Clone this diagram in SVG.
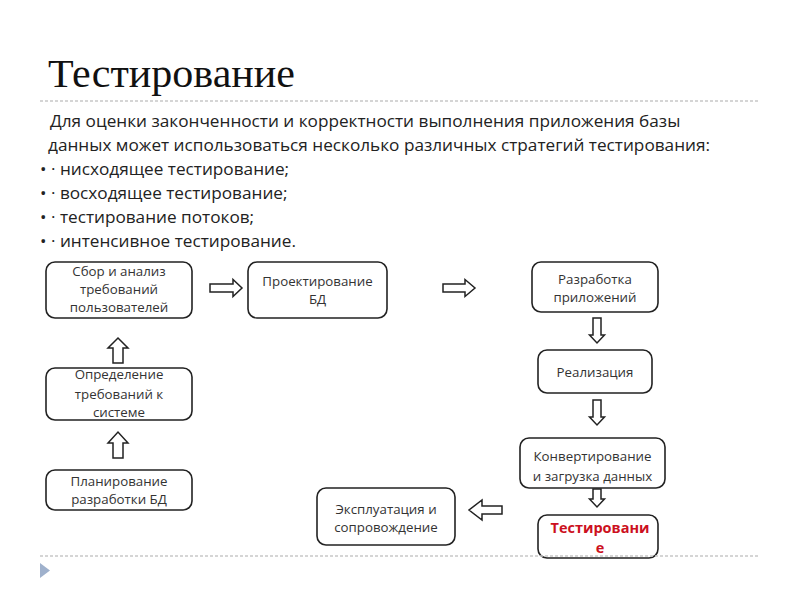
<svg xmlns="http://www.w3.org/2000/svg" width="800" height="600" viewBox="0 0 800 600">
<style>
.title{font-family:"Liberation Serif",serif;font-size:40px;fill:#111}
.body{font-family:"Open Sans","DejaVu Sans",sans-serif;font-size:17.2px;fill:#222}
.box{fill:#fff;stroke:#222;stroke-width:1.6}
.lbl{font-family:"Open Sans","DejaVu Sans",sans-serif;font-size:13.3px;fill:#333;text-anchor:middle}
.red{font-family:"Open Sans","DejaVu Sans",sans-serif;font-size:14.5px;font-weight:bold;fill:#cc1020;text-anchor:middle}
.arr{fill:#fff;stroke:#222;stroke-width:1.5;stroke-linejoin:miter}
.dots{stroke:#c8c8c8;stroke-width:1.5;stroke-dasharray:3 2}
</style>
<rect width="800" height="600" fill="#fff"/>
<text class="title" x="48" y="87" textLength="247" lengthAdjust="spacingAndGlyphs">Тестирование</text>
<line class="dots" x1="40" y1="101" x2="760" y2="101"/>
<text class="body" x="50" y="127">Для оценки законченности и корректности выполнения приложения базы</text>
<text class="body" x="48" y="151">данных может использоваться несколько различных стратегий тестирования:</text>
<g class="body">
<text x="40" y="175">• · нисходящее тестирование;</text>
<text x="40" y="199">• · восходящее тестирование;</text>
<text x="40" y="223">• · тестирование потоков;</text>
<text x="40" y="247">• · интенсивное тестирование.</text>
</g>
<g id="n1"><rect class="box" x="46" y="262" width="146" height="56" rx="9"/>
<text class="lbl" x="119" y="276">Сбор и анализ</text><text class="lbl" x="119" y="294">требований</text><text class="lbl" x="119" y="312">пользователей</text></g>
<g id="n2"><rect class="box" x="248" y="262" width="139" height="56" rx="9"/>
<text class="lbl" x="317.5" y="286">Проектирование</text><text class="lbl" x="317.5" y="304">БД</text></g>
<g id="n3"><rect class="box" x="532" y="262" width="126" height="50" rx="9"/>
<text class="lbl" x="595" y="284">Разработка</text><text class="lbl" x="595" y="302">приложений</text></g>
<g id="n4"><rect class="box" x="538" y="350" width="114" height="43" rx="9"/>
<text class="lbl" x="595" y="377">Реализация</text></g>
<g id="n5"><rect class="box" x="520" y="438" width="145" height="50" rx="9"/>
<text class="lbl" x="592.5" y="461">Конвертирование</text><text class="lbl" x="592.5" y="481">и загрузка данных</text></g>
<g id="n6"><rect class="box" x="538" y="515" width="120" height="43" rx="9"/>
<text class="red" x="600" y="533">Тестировани</text><text class="red" x="600" y="553">е</text></g>
<g id="n7"><rect class="box" x="317" y="488" width="138" height="57" rx="9"/>
<text class="lbl" x="386" y="514">Эксплуатация и</text><text class="lbl" x="386" y="532">сопровождение</text></g>
<g id="n8"><rect class="box" x="46" y="368" width="146" height="52" rx="9"/>
<text class="lbl" x="119" y="379">Определение</text><text class="lbl" x="119" y="399">требований к</text><text class="lbl" x="119" y="417">системе</text></g>
<g id="n9"><rect class="box" x="46" y="470" width="146" height="40" rx="9"/>
<text class="lbl" x="119" y="486">Планирование</text><text class="lbl" x="119" y="504">разработки БД</text></g>
<g id="connectors">
<path class="arr" d="M210,284 H233 V279.5 L242,288 L233,296.5 V292 H210 Z"/>
<path class="arr" d="M443,284 H465 V279.5 L475,288 L465,296.5 V292 H443 Z"/>
<path class="arr" d="M113,363 V348 H108 L118,338 L128,348 H123 V363 Z"/>
<path class="arr" d="M113,458 V443 H108 L118,432 L128,443 H123 V458 Z"/>
<path class="arr" d="M593,318 V335 H589.5 L597,343 L604.5,335 H601 V318 Z"/>
<path class="arr" d="M593,400 V417 H589.5 L597,425 L604.5,417 H601 V400 Z"/>
<path class="arr" d="M593,489 V499 H589.5 L597,507 L604.5,499 H601 V489 Z"/>
<path class="arr" d="M502,506 H482 V500 L469,510 L482,520 V514 H502 Z"/>
</g>
<line class="dots" x1="40" y1="556" x2="760" y2="556"/>
<path d="M40,563 L50,570.5 L40,578 Z" fill="#9fb1cc"/>
</svg>
